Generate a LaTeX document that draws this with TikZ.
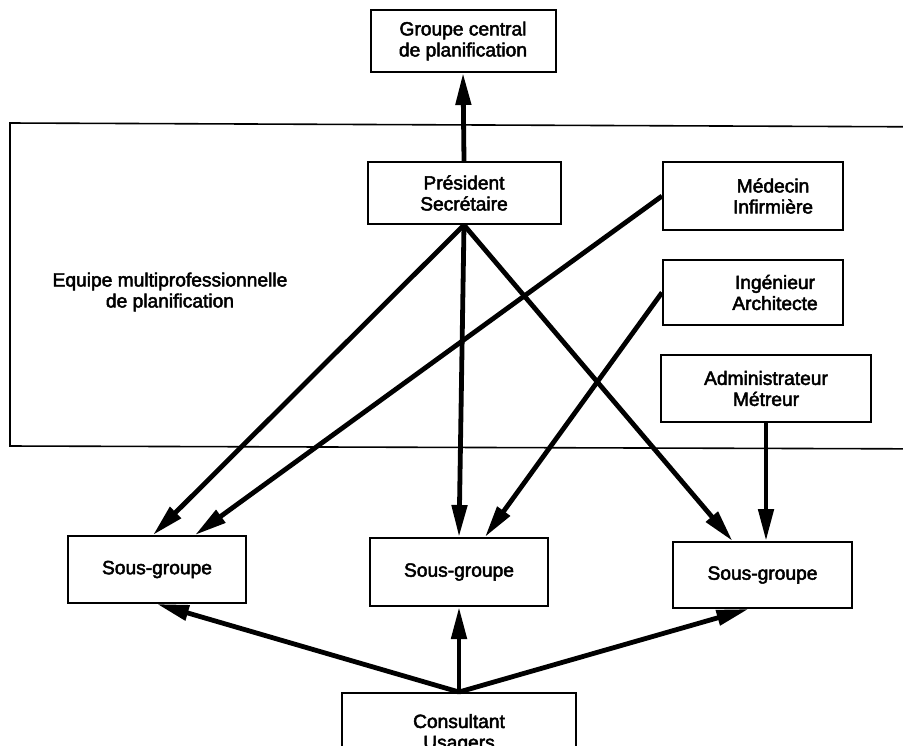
\documentclass[tikz,border=0pt]{standalone}
\usepackage{fontspec}
\setmainfont{Liberation Sans}[FakeBold=2.5]
\usetikzlibrary{arrows.meta}

\begin{document}
\begin{tikzpicture}[
  x=0.5pt, y=-0.5pt,
  every node/.style={font=\fontsize{9.6}{10.5}\selectfont,align=center,inner sep=0pt},
  box/.style 2 args={draw,line width=1pt,minimum width=#1*0.5pt,minimum height=#2*0.5pt},
  link/.style={line width=2.4pt,-{Triangle[length=16pt,width=7.5pt]}},
  team/.style={line width=0.8pt}
]
  \useasboundingbox (0,0) rectangle (903,745);
  \clip (0,0) rectangle (903,745);

  \draw[team] (960,127) -- (10,123) -- (10,446) -- (960,449);

  \node[box={185}{62}] (groupe) at (463,41) {Groupe central\\de planification};
  \node[box={193}{62}] (pres) at (464,193) {Président\\Secrétaire};
  \node[box={180}{68}] (med) at (753,196) {\hspace*{20pt}Médecin\\\hspace*{20pt}Infirmière};
  \node[box={180}{65}] (ing) at (753,292.5) {\hspace*{22pt}Ingénieur\\\hspace*{22pt}Architecte};
  \node[box={210}{67}] (admin) at (766,388.5) {Administrateur\\Métreur};
  \node (equipe) at (170,292) {Equipe multiprofessionnelle\\de planification};

  \node[box={178}{67}] (sg1) at (157,569.5) {Sous-groupe};
  \node[box={178}{68}] (sg2) at (459,572) {Sous-groupe};
  \node[box={179}{66}] (sg3) at (762.5,575) {Sous-groupe};
  \node[box={234}{81}] (cons) at (459,733.5) {Consultant\\Usagers};

  \draw[link] (pres.north) -- (groupe.south);
  \draw[link] (pres.south) -- ([xshift=-2pt]sg1.north);
  \draw[link] (pres.south) -- (sg2.north);
  \draw[link] (pres.south) -- ([xshift=-15pt]sg3.north);
  \draw[link] (med.west) -- ([xshift=19pt]sg1.north);
  \draw[link] (ing.west) -- ([xshift=13pt]sg2.north);
  \draw[link] (admin.south) -- (admin.south |- sg3.north);

  \draw[link] (cons.north) -- (sg1.south);
  \draw[link] (cons.north) -- (sg2.south);
  \draw[link] (cons.north) -- ([xshift=-7pt]sg3.south);
\end{tikzpicture}
\end{document}
